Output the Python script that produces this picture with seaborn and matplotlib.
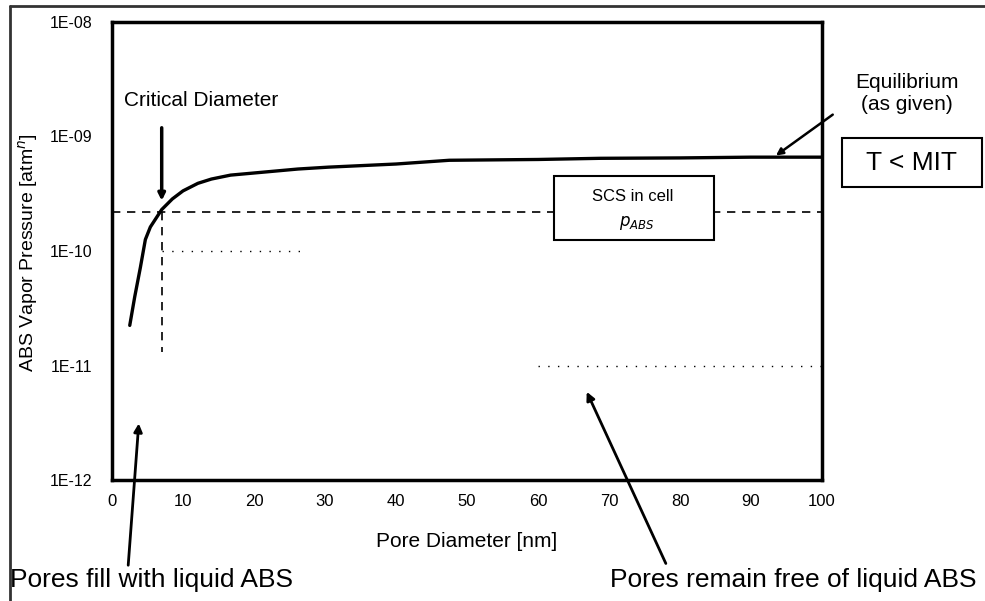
import matplotlib
matplotlib.use("Agg")
import matplotlib.pyplot as plt
import seaborn as sns
import pandas as pd
from matplotlib.lines import Line2D
from matplotlib.patches import Rectangle

# ---- data ----
pore_diameter = [2.5, 3.2, 4.0, 4.7, 5.4, 7.0, 8.5, 10.0, 12.1, 14.0, 16.7, 21.6,
                 26.2, 30.5, 40, 47.5, 60, 68.8, 80, 90, 100]
vapor_pressure = [2.24e-11, 3.98e-11, 7.2e-11, 1.26e-10, 1.62e-10, 2.3e-10, 2.85e-10,
                  3.35e-10, 3.9e-10, 4.25e-10, 4.6e-10, 4.9e-10, 5.2e-10, 5.4e-10,
                  5.75e-10, 6.2e-10, 6.3e-10, 6.45e-10, 6.5e-10, 6.6e-10, 6.6e-10]
critical_diameter = 7.0
critical_pressure = 2.2e-10
x_ticks = [0, 10, 20, 30, 40, 50, 60, 70, 80, 90, 100]
y_ticks = [1e-12, 1e-11, 1e-10, 1e-9, 1e-8]
y_tick_labels = ["1E-12", "1E-11", "1E-10", "1E-09", "1E-08"]

sns.set_style("white")
plt.rcParams["font.family"] = ["Liberation Sans", "DejaVu Sans"]
plt.rcParams["text.color"] = "black"
plt.rcParams["axes.labelcolor"] = "black"
plt.rcParams["xtick.color"] = "black"
plt.rcParams["ytick.color"] = "black"

W, H = 985, 601
fig = plt.figure(figsize=(W / 100, H / 100), dpi=100)
ax = fig.add_axes([112 / W, 1 - 480 / H, 710 / W, 458 / H])

df = pd.DataFrame({"d": pore_diameter, "p": vapor_pressure})
sns.lineplot(data=df, x="d", y="p", ax=ax, color="black", linewidth=2.4)

ax.set_yscale("log")
ax.set_xlim(0, 100)
ax.set_ylim(1e-12, 1e-8)
ax.set_xticks(x_ticks)
ax.set_xticklabels([str(t) for t in x_ticks], fontsize=12)
ax.set_yticks(y_ticks)
ax.set_yticklabels(y_tick_labels, fontsize=11.5)
ax.minorticks_off()
ax.tick_params(axis="both", length=0)
ax.tick_params(axis="x", pad=10)
ax.tick_params(axis="y", pad=14)
for s in ax.spines.values():
    s.set_linewidth(2.5)
    s.set_color("black")

ax.set_xlabel("Pore Diameter [nm]", fontsize=15)
ax.set_ylabel("ABS Vapor Pressure [atm$^{n}$]", fontsize=14)
ax.xaxis.set_label_coords((467 - 112) / 710, (480 - 532) / 458)
ax.yaxis.set_label_coords((40 - 112) / 710, (480 - 253) / 458)

# dashed guide lines at critical point
ax.axhline(critical_pressure, color="black", lw=1.2, ls=(0, (5, 4)), zorder=1)
ax.plot([critical_diameter, critical_diameter], [critical_pressure, 1.3e-11],
        color="black", lw=1.2, ls=(0, (5, 4)))
ax.plot([critical_diameter, 27], [1e-10, 1e-10], color="black", lw=1, ls=(0, (1, 6)))
ax.plot([60, 100], [1e-11, 1e-11], color="black", lw=1, ls=(0, (1, 6)))

# SCS box
box = Rectangle((554 / W, 1 - 240 / H), 160 / W, 64 / H, transform=fig.transFigure,
                facecolor="white", edgecolor="black", lw=1.5, zorder=5)
fig.patches.append(box)
fig.text(633 / W, 1 - 197 / H, "SCS in cell", ha="center", va="center", fontsize=12, zorder=6)
fig.text(637 / W, 1 - 223 / H, "$p_{ABS}$", ha="center", va="center", fontsize=12, zorder=6)

# T < MIT box
tbox = Rectangle((842 / W, 1 - 187 / H), 140 / W, 49 / H, transform=fig.transFigure,
                 facecolor="white", edgecolor="black", lw=1.5)
fig.patches.append(tbox)
fig.text(912 / W, 1 - 163 / H, "T < MIT", ha="center", va="center", fontsize=19)

# Equilibrium text and arrow
fig.text(907 / W, 1 - 82 / H, "Equilibrium", ha="center", va="center", fontsize=15)
fig.text(907 / W, 1 - 104 / H, "(as given)", ha="center", va="center", fontsize=15)
arrow_kw = dict(arrowstyle="-|>", color="black", lw=1.8, mutation_scale=10)
ax.annotate("", xy=(93.2, 6.6e-10), xycoords="data",
            xytext=(835, H - 113), textcoords="figure pixels",
            arrowprops=arrow_kw, annotation_clip=False)

# Critical diameter
fig.text(124 / W, 1 - 100 / H, "Critical Diameter", ha="left", va="center", fontsize=15)
ax.annotate("", xy=(critical_diameter, 2.6e-10), xycoords="data",
            xytext=(161.7, H - 125), textcoords="figure pixels",
            arrowprops=dict(arrowstyle="-|>", color="black", lw=2.5, mutation_scale=10),
            annotation_clip=False)

# Bottom annotations
fig.text(10 / W, 1 - 580 / H, "Pores fill with liquid ABS", ha="left", va="center", fontsize=19)
fig.text(976 / W, 1 - 580 / H, "Pores remain free of liquid ABS", ha="right", va="center", fontsize=19)
ax.annotate("", xy=(3.8, 3.3e-12), xycoords="data",
            xytext=(128, H - 568), textcoords="figure pixels",
            arrowprops=dict(arrowstyle="-|>", color="black", lw=2, mutation_scale=12),
            annotation_clip=False)
ax.annotate("", xy=(66.7, 6.2e-12), xycoords="data",
            xytext=(667, H - 566), textcoords="figure pixels",
            arrowprops=dict(arrowstyle="-|>", color="black", lw=2, mutation_scale=12),
            annotation_clip=False)

# outer frame (left and top)
fig.add_artist(Line2D([10 / W, 10 / W], [0, 1 - 6 / H], transform=fig.transFigure,
                      color="#333333", lw=2))
fig.add_artist(Line2D([10 / W, 1], [1 - 6 / H, 1 - 6 / H], transform=fig.transFigure,
                      color="#333333", lw=2))

fig.savefig("out.png", dpi=100)
